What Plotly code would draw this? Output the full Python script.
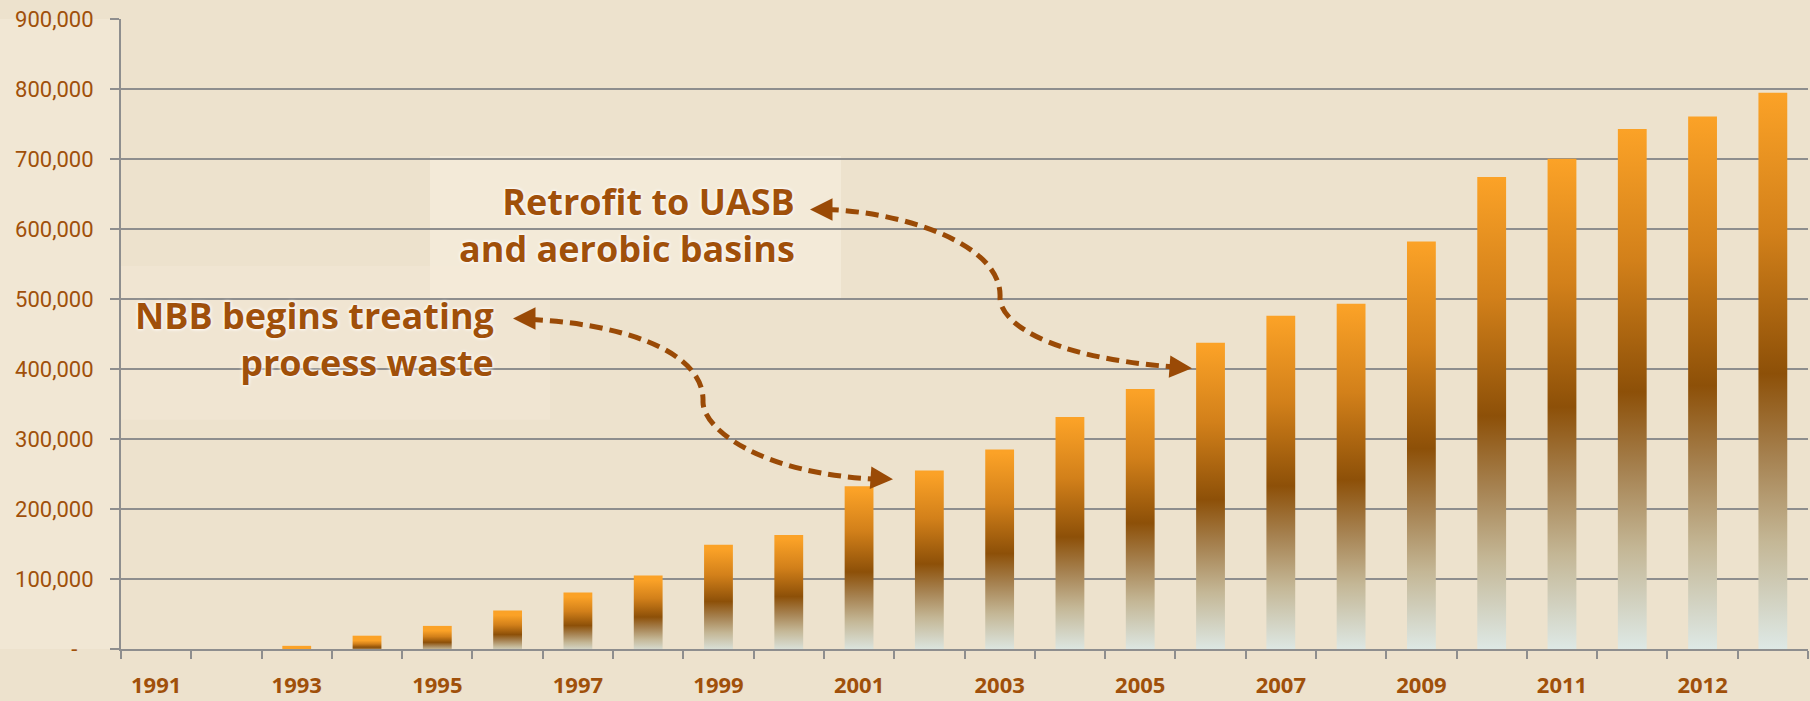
import plotly.graph_objects as go

# ---------------- data ----------------
BAR_POSITIONS = list(range(24))
VALUES = [0, 0, 4500, 19000, 33000, 55000, 80800, 104900, 148800, 163000,
          232400, 255100, 284900, 331600, 371300, 437400, 476200, 493200,
          582100, 674200, 700200, 742700, 760700, 794700]
X_TICK_POSITIONS = [0, 2, 4, 6, 8, 10, 12, 14, 16, 18, 20, 22]
X_TICK_LABELS = ["1991", "1993", "1995", "1997", "1999", "2001", "2003",
                 "2005", "2007", "2009", "2011", "2012"]
Y_TICK_VALUES = [0, 100000, 200000, 300000, 400000, 500000, 600000,
                 700000, 800000, 900000]
Y_TICK_LABELS = ["-\u00a0\u00a0\u00a0", "100,000", "200,000", "300,000", "400,000",
                 "500,000", "600,000", "700,000", "800,000", "900,000"]

# ---------------- style ----------------
W_FIG, H_FIG = 1810, 701
L, T, PW, PH = 121, 19, 1687, 635
BROWN = "#A0500A"
ARROW = "#9A4A06"
GRID = "#8E8E8E"
BG = "#EDE2CD"
BAR_WIDTH = 0.41
BAR_SCALE = [[0.0, "#DFEBE9"], [0.2, "#C4B796"], [0.35, "#A68251"],
             [0.5, "#8D5008"], [0.75, "#D2801A"], [1.0, "#FBA227"]]


def px(x):
    return (x - L) / PW


def py(y):
    return 1 - (y - T) / PH


fig = go.Figure()

for pos, val in zip(BAR_POSITIONS, VALUES):
    if val <= 0:
        continue
    x0, x1 = pos - BAR_WIDTH / 2, pos + BAR_WIDTH / 2
    fig.add_trace(go.Scatter(
        x=[x0, x1, x1, x0, x0], y=[0, 0, val, val, 0],
        mode="lines", fill="toself", line=dict(width=0),
        fillgradient=dict(type="vertical", colorscale=BAR_SCALE, start=0, stop=val),
        hoverinfo="skip", showlegend=False,
    ))

# background light panels (decoration)
fig.add_shape(type="rect", xref="paper", yref="paper", layer="below",
              x0=px(430), x1=px(841), y0=py(302), y1=py(157),
              fillcolor="rgba(250,243,230,0.45)", line=dict(width=0))
fig.add_shape(type="rect", xref="paper", yref="paper", layer="below",
              x0=px(120), x1=px(550), y0=py(423), y1=py(268),
              fillcolor="rgba(246,236,218,0.4)", line=dict(width=0))
fig.add_shape(type="rect", xref="paper", yref="paper", layer="below",
              x0=px(0), x1=px(120), y0=0, y1=1,
              fillcolor="rgba(248,240,226,0.35)", line=dict(width=0))


def path(points):
    (sx, sy) = points[0]
    s = f"M {px(sx)},{py(sy)}"
    rest = points[1:]
    for i in range(0, len(rest), 3):
        c1, c2, e = rest[i], rest[i + 1], rest[i + 2]
        s += f" C {px(c1[0])},{py(c1[1])} {px(c2[0])},{py(c2[1])} {px(e[0])},{py(e[1])}"
    return s


retro = [(826, 211), (900, 213), (1003, 245), (1000, 300),
         (1000, 322), (1040, 360), (1178, 370)]
nbb = [(530, 322), (610, 325), (705, 350), (703, 405),
       (703, 432), (760, 478), (880, 483)]
for pts in (retro, nbb):
    fig.add_shape(type="path", xref="paper", yref="paper", path=path(pts),
                  line=dict(color=ARROW, width=5, dash="13px,7px"))

# arrowheads
for (tx, ty, dx, dy) in [(810, 211, 14, 0), (1192, 371, -14, -1),
                         (513, 321, 14, 0), (893, 483, -14, -1)]:
    fig.add_annotation(xref="paper", yref="paper", x=px(tx), y=py(ty),
                       ax=dx, ay=dy, text="", showarrow=True,
                       arrowhead=2, arrowsize=1, arrowwidth=4.5, arrowcolor=ARROW)

ann_font = dict(family="Open Sans", size=36, color=BROWN, weight="bold",
                shadow="0px 0px 4px #ffffff, 0px 0px 3px #ffffff")
fig.add_annotation(xref="paper", yref="paper", x=px(797), y=py(226.5),
                   xanchor="right", yanchor="middle", align="right",
                   text="Retrofit to UASB<br>and aerobic basins",
                   showarrow=False, font=ann_font)
fig.add_annotation(xref="paper", yref="paper", x=px(496), y=py(341.5),
                   xanchor="right", yanchor="middle", align="right",
                   text="NBB begins treating<br>process waste",
                   showarrow=False, font=ann_font)

fig.update_layout(
    width=W_FIG, height=H_FIG,
    margin=dict(l=L, r=W_FIG - L - PW, t=T, b=H_FIG - T - PH),
    paper_bgcolor=BG, plot_bgcolor="rgba(0,0,0,0)",
    showlegend=False,
    xaxis=dict(range=[-0.5, 23.5], tickmode="array",
               tickvals=X_TICK_POSITIONS, ticktext=X_TICK_LABELS,
               ticks="", showgrid=False, zeroline=False,
               showline=True, linecolor=GRID, linewidth=2,
               tickfont=dict(family="Open Sans", size=22, color=BROWN, weight="bold"),
               ticklabelstandoff=16,
               minor=dict(tickmode="array", tickvals=[i - 0.5 for i in range(25)],
                          ticks="outside", ticklen=8, tickwidth=2, tickcolor=GRID,
                          showgrid=False)),
    yaxis=dict(range=[0, 900000], tickmode="array",
               tickvals=Y_TICK_VALUES, ticktext=Y_TICK_LABELS,
               ticks="outside", ticklen=9, tickwidth=2, tickcolor=GRID,
               showgrid=True, gridcolor=GRID, gridwidth=2, zeroline=False,
               showline=True, linecolor=GRID, linewidth=2,
               tickfont=dict(family="Roboto", size=22, color=BROWN),
               ticklabelstandoff=12),
)

fig.write_html("out.html", config={"displayModeBar": False},
               post_script="document.body.style.margin='0';")
